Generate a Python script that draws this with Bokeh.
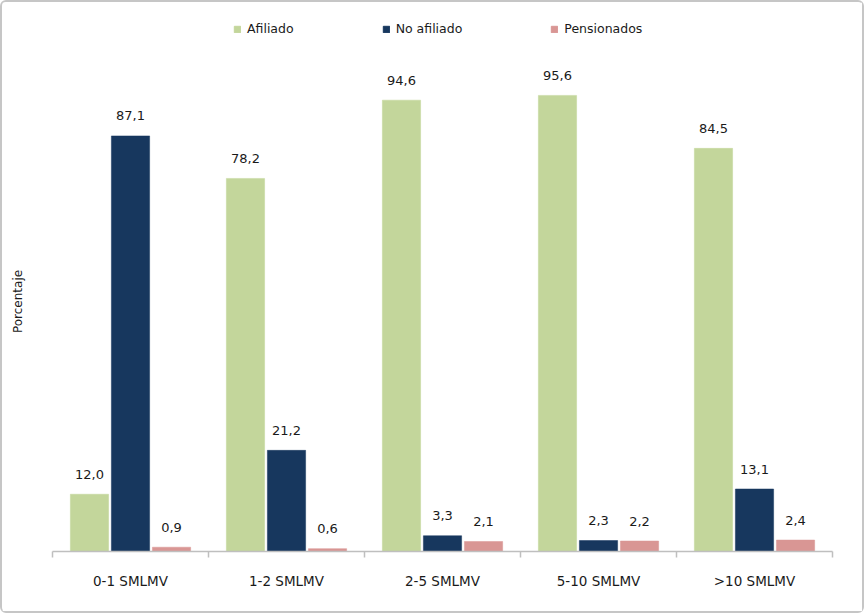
from bokeh.plotting import figure
from bokeh.layouts import column
from bokeh.models import ColumnDataSource, Range1d, FixedTicker, Legend, LegendItem, LabelSet
from bokeh.transform import dodge
from bokeh.core.properties import value
from bokeh.embed import file_html
from bokeh.resources import INLINE

categories = ["0-1 SMLMV", "1-2 SMLMV", "2-5 SMLMV", "5-10 SMLMV", ">10 SMLMV"]
afiliado = [12.0, 78.2, 94.6, 95.6, 84.5]
no_afiliado = [87.1, 21.2, 3.3, 2.3, 13.1]
pensionados = [0.9, 0.6, 2.1, 2.2, 2.4]
series_names = ["Afiliado", "No afiliado", "Pensionados"]
colors = ["#c3d69b", "#17375e", "#d99694"]

def fmt(v):
    return f"{v:.1f}".replace(".", ",")

x = list(range(len(categories)))
src = ColumnDataSource(dict(
    x=x,
    afiliado=afiliado, no_afiliado=no_afiliado, pensionados=pensionados,
    l_afiliado=[fmt(v) for v in afiliado],
    l_no_afiliado=[fmt(v) for v in no_afiliado],
    l_pensionados=[fmt(v) for v in pensionados],
))

# ---- legend strip (top) ----
leg = figure(width=860, height=49, output_backend="svg", toolbar_location=None,
             x_range=Range1d(0, 1), y_range=Range1d(0, 1),
             min_border_left=0, min_border_right=0, min_border_top=0, min_border_bottom=0)
leg.axis.visible = False
leg.grid.visible = False
leg.outline_line_color = None
leg.border_fill_color = "white"
# legend-only renderers: one point placed outside the visible range
dummy = ColumnDataSource(dict(x=[-10], top=[0]))
items = []
for c, name in zip(colors, series_names):
    r = leg.vbar(x="x", top="top", width=0.1, source=dummy, fill_color=c, line_color=c)
    items.append(LegendItem(label=name, renderers=[r]))
legend = Legend(items=items, orientation="horizontal", location=(181, 15),
                padding=0, margin=0, spacing=88, glyph_width=8, glyph_height=8,
                label_standoff=6, label_text_font="DejaVu Sans", label_text_font_size="12.5px",
                label_text_color="#1a1a1a", border_line_color=None, background_fill_alpha=0,
                label_height=12)
leg.add_layout(legend, "center")

# ---- main chart ----
p = figure(width=860, height=560, output_backend="svg", toolbar_location=None,
           x_range=Range1d(-0.5, len(categories) - 0.5), y_range=Range1d(0, 104.8),
           min_border_left=50, min_border_right=30, min_border_top=0, min_border_bottom=60)
p.outline_line_color = None
p.grid.visible = False
p.background_fill_color = "white"
p.border_fill_color = "white"

keys = ["afiliado", "no_afiliado", "pensionados"]
offsets = [-0.263, 0.0, 0.263]
for k, off, c in zip(keys, offsets, colors):
    p.vbar(x=dodge("x", off), top=k, width=0.245, source=src,
           fill_color=c, line_color=c, line_width=0.5)
    lbl = LabelSet(x=dodge("x", off), y=k, text="l_" + k, source=src,
                   text_align="center", text_baseline="middle", y_offset=20,
                   text_font=value("DejaVu Sans"), text_font_size=value("13px"),
                   text_color=value("#1a1a1a"))
    p.add_layout(lbl)

# x axis: labels at centers, boundary ticks as minor ticks
ax = p.xaxis[0]
ax.ticker = FixedTicker(ticks=x, minor_ticks=[i - 0.5 for i in range(len(categories) + 1)])
ax.major_label_overrides = {i: c for i, c in enumerate(categories)}
ax.major_tick_line_color = None
ax.minor_tick_line_color = "#bfbfbf"
ax.minor_tick_line_width = 1.5
ax.minor_tick_in = 0
ax.minor_tick_out = 6
ax.axis_line_color = "#bfbfbf"
ax.axis_line_width = 1.5
ax.major_label_standoff = 15
ax.major_label_text_font = "DejaVu Sans"
ax.major_label_text_font_size = "13.5px"
ax.major_label_text_color = "#1a1a1a"

ay = p.yaxis[0]
ay.ticker = FixedTicker(ticks=[])
ay.axis_line_color = None
ay.major_tick_line_color = None
ay.minor_tick_line_color = None
ay.major_label_text_font_size = "0px"
ay.axis_label = "Porcentaje"
ay.axis_label_text_font = "DejaVu Sans"
ay.axis_label_text_font_size = "12px"
ay.axis_label_text_font_style = "normal"
ay.axis_label_text_color = "#1a1a1a"
ay.axis_label_standoff = 28

layout = column(leg, p, spacing=0)
layout.styles = {"border": "2px solid #c6c6c6", "border-radius": "6px", "background": "white"}

open("out.html", "w").write(file_html(layout, INLINE))
